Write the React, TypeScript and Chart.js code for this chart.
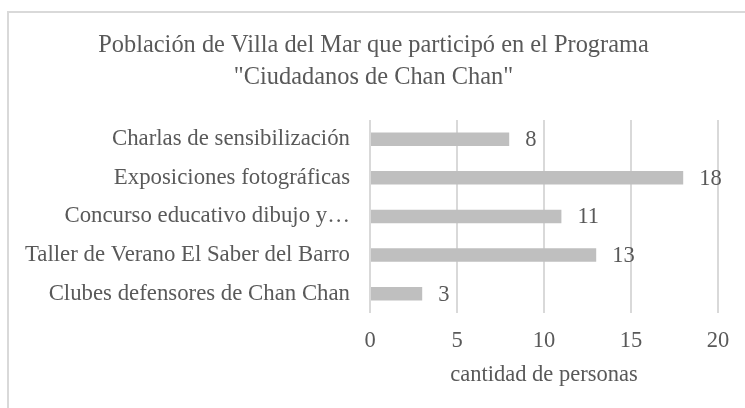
import React, { useEffect, useRef } from "react";
import { Chart, registerables } from "chart.js";

Chart.register(...registerables);

const categories = [
  "Charlas de sensibilización",
  "Exposiciones fotográficas",
  "Concurso educativo dibujo y…",
  "Taller de Verano El Saber del Barro",
  "Clubes defensores de Chan Chan",
];
const values = [8, 18, 11, 13, 3];
const titleLines = [
  "Población de Villa del Mar que participó en el Programa",
  '"Ciudadanos de Chan Chan"',
];
const xAxisTitle = "cantidad de personas";

const FONT = "'Liberation Serif', 'Times New Roman', serif";
const TEXT = "#595959";
const FS = 22.5;

const dataLabels = {
  id: "dataLabels",
  afterDatasetsDraw(chart: any) {
    const ctx = chart.ctx;
    const meta = chart.getDatasetMeta(0);
    ctx.save();
    ctx.font = `${FS}px ${FONT}`;
    ctx.fillStyle = TEXT;
    ctx.textAlign = "left";
    ctx.textBaseline = "middle";
    meta.data.forEach((bar: any, i: number) => {
      ctx.fillText(String(values[i]), bar.x + 16, bar.y + 1);
    });
    ctx.restore();
  },
};

const shiftTitle = {
  id: "shiftTitle",
  afterLayout(chart: any) {
    const t = chart.titleBlock;
    if (t) {
      t.left = 29;
      t.right = chart.chartArea.right;
    }
  },
};

export default function App() {
  const ref = useRef<HTMLCanvasElement>(null);
  useEffect(() => {
    document.body.style.margin = "0";
    const chart = new Chart(ref.current!, {
      type: "bar",
      data: {
        labels: categories,
        datasets: [
          {
            data: values,
            backgroundColor: "#bfbfbf",
            barPercentage: 0.7,
            categoryPercentage: 0.5,
          },
        ],
      },
      options: {
        indexAxis: "y",
        responsive: false,
        animation: false,
        layout: { padding: { left: 10, right: 27, top: 0, bottom: 0 } },
        plugins: {
          legend: { display: false },
          tooltip: { enabled: false },
          title: {
            display: true,
            text: titleLines,
            color: TEXT,
            font: { family: FONT, size: 24.4, weight: "normal", lineHeight: 1.31 },
            padding: { top: 30, bottom: 26 },
          },
        },
        scales: {
          x: {
            min: 0,
            max: 20,
            ticks: {
              stepSize: 5,
              color: TEXT,
              font: { family: FONT, size: FS },
              padding: 15,
            },
            grid: { color: "#d9d9d9", lineWidth: 2, drawTicks: false },
            border: { display: false },
            title: {
              display: true,
              text: xAxisTitle,
              color: TEXT,
              font: { family: FONT, size: FS },
              padding: { top: 9, bottom: 19 },
            },
            afterFit: (scale: any) => {
              scale.height = 95;
            },
          },
          y: {
            ticks: {
              color: TEXT,
              font: { family: FONT, size: 22.8 },
              padding: 20,
            },
            grid: { display: false, drawTicks: false },
            border: { display: false },
            afterFit: (scale: any) => {
              scale.width = 360;
            },
          },
        },
      },
      plugins: [dataLabels, shiftTitle],
    });
    return () => chart.destroy();
  }, []);
  return (
    <div style={{ position: "relative", width: 745, height: 408, overflow: "hidden", background: "#fff" }}>
      <div
        style={{
          position: "absolute",
          left: 7,
          top: 11,
          width: 760,
          height: 420,
          border: "2px solid #d9d9d9",
        }}
      />
      <canvas ref={ref} width={745} height={408} style={{ position: "absolute", left: 0, top: 0 }} />
    </div>
  );
}
